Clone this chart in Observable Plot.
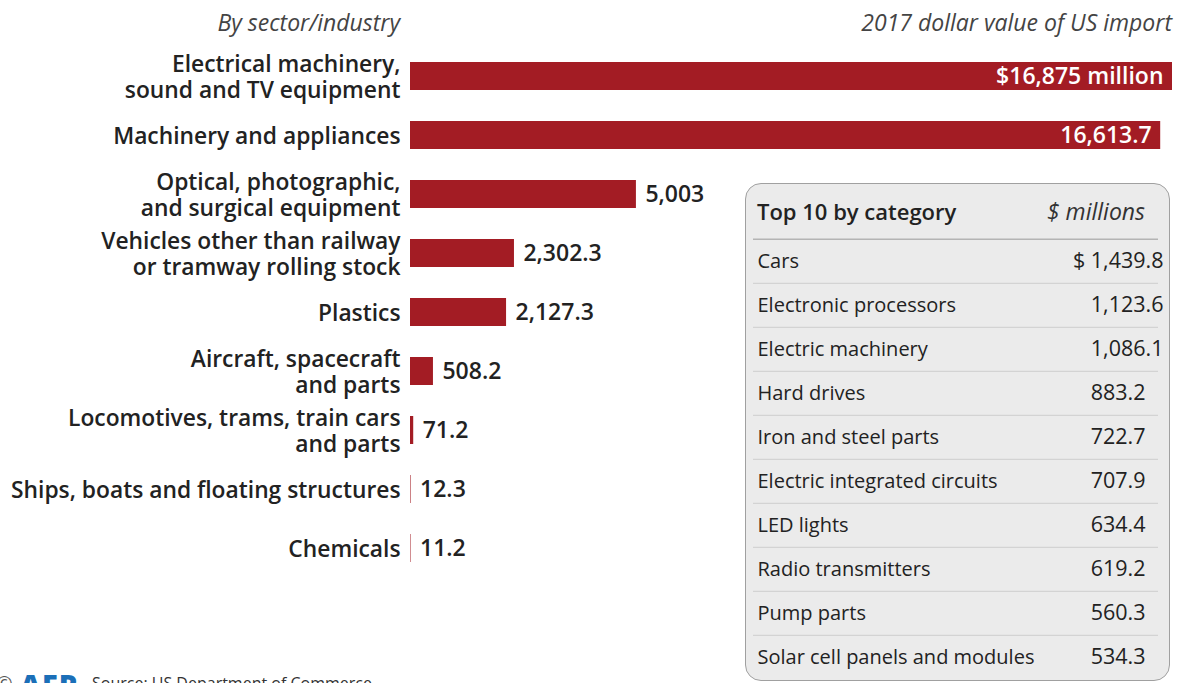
<!DOCTYPE html>
<html><head><meta charset="utf-8">
<script src="https://cdn.jsdelivr.net/npm/d3@7"></script>
<script src="https://cdn.jsdelivr.net/npm/@observablehq/plot@0.6"></script>
<style>
body{margin:0;background:#fff;overflow:hidden;}
#wrap{position:relative;width:1180px;height:683px;overflow:hidden;font-family:"Open Sans","Noto Sans",sans-serif;background:#fff;}
.hdr{position:absolute;top:6px;font-style:italic;font-size:23px;color:#444;white-space:nowrap;}
#chart{position:absolute;left:0;top:0;}
#box{position:absolute;left:745px;top:183px;width:425px;height:498px;box-sizing:border-box;background:#ebebeb;border:1.5px solid #a0a0a0;border-radius:16px;overflow:hidden;}
#boxhead{position:absolute;left:11px;right:24px;top:12px;font-size:22px;color:#222;line-height:30px;}
#boxhead b{font-weight:600;}
#boxhead i{position:absolute;right:0;top:0;color:#333;font-size:23px;}
#table{position:absolute;left:0;top:0;width:425px;height:498px;}
#table svg{max-width:none;}
#foot{position:absolute;left:0;top:664px;white-space:nowrap;}
#foot .logo{position:absolute;left:20px;top:0;font-size:29px;font-weight:800;color:#1b6fb8;letter-spacing:1px;}
#foot .copy{position:absolute;left:-4px;top:6px;font-size:20px;color:#555;}
#foot .src{position:absolute;left:92px;top:8px;font-size:16px;color:#333;}
</style></head><body>
<div id="wrap">
  <div class="hdr" style="left:0;width:400px;text-align:right;">By sector/industry</div>
  <div class="hdr" style="right:8px;text-align:right;">2017 dollar value of US import</div>
  <div id="chart"></div>
  <div id="box">
    <div id="table"></div>
    <div id="boxhead"><b>Top 10 by category</b><i>$ millions</i></div>
  </div>
  <div id="foot"><span class="copy">©</span><span class="logo">AFP</span><span class="src">Source: US Department of Commerce</span></div>
</div>
<script>
const sectors = [
  "Electrical machinery,\nsound and TV equipment",
  "Machinery and appliances",
  "Optical, photographic,\nand surgical equipment",
  "Vehicles other than railway\nor tramway rolling stock",
  "Plastics",
  "Aircraft, spacecraft\nand parts",
  "Locomotives, trams, train cars\nand parts",
  "Ships, boats and floating structures",
  "Chemicals"
];
const sectorValues = [16875, 16613.7, 5003, 2302.3, 2127.3, 508.2, 71.2, 12.3, 11.2];

const topCategories = [
  "Cars", "Electronic processors", "Electric machinery", "Hard drives",
  "Iron and steel parts", "Electric integrated circuits", "LED lights",
  "Radio transmitters", "Pump parts", "Solar cell panels and modules"
];
const topValues = [1439.8, 1123.6, 1086.1, 883.2, 722.7, 707.9, 634.4, 619.2, 560.3, 534.3];

const RED = "#a31c24";
const FONT = "'Open Sans', 'Noto Sans', sans-serif";
const fmt = d3.format(",");
const fmt1 = d3.format(",.1f");

const data = sectors.map((s, i) => ({sector: s, value: sectorValues[i], i}));

const main = Plot.plot({
  width: 1180, height: 600,
  marginLeft: 0, marginRight: 0, marginTop: 0, marginBottom: 0,
  x: {domain: [0, 16875], range: [410, 1172], axis: null},
  y: {type: "band", domain: sectors, range: [62, 563], paddingInner: 0.52, paddingOuter: 0, axis: null},
  style: {fontFamily: FONT, background: "transparent", overflow: "visible"},
  marks: [
    Plot.barX(data, {x: "value", y: "sector", fill: RED}),
    Plot.text(data, {x: 0, y: "sector", text: "sector", textAnchor: "end", dx: -10,
      fontSize: 22.8, fontWeight: 600, fill: "#222", lineHeight: 1.15}),
    Plot.text(data.filter(d => d.value > 10000), {x: "value", y: "sector",
      text: d => d.i === 0 ? "$" + fmt(d.value) + " million" : fmt(d.value),
      textAnchor: "end", dx: -9, fill: "#fff", fontSize: 23, fontWeight: 600}),
    Plot.text(data.filter(d => d.value <= 10000), {x: "value", y: "sector",
      text: d => fmt(d.value), textAnchor: "start", dx: 9, fill: "#222", fontSize: 23, fontWeight: 600})
  ]
});
document.getElementById("chart").append(main);

const rows = topCategories.map((c, i) => ({cat: c, value: topValues[i], i}));
const table = Plot.plot({
  width: 425, height: 498,
  marginLeft: 0, marginRight: 0, marginTop: 53, marginBottom: 1,
  x: {domain: [0, 1], range: [7, 412], axis: null},
  y: {type: "band", domain: topCategories, padding: 0, axis: null},
  style: {fontFamily: FONT, background: "transparent"},
  marks: [
    Plot.ruleY(rows, {y: "cat", dy: -22.2, x1: 0, x2: 1, stroke: d => d.i === 0 ? "#b4b4b4" : "#cdcdcd",
      strokeWidth: d => d.i === 0 ? 1.5 : 1}),
    Plot.text(rows, {y: "cat", text: "cat", frameAnchor: "left", dx: 11, fontSize: 20, fill: "#222"}),
    Plot.text(rows.filter(d => d.value >= 1000), {y: "cat",
      text: d => (d.i === 0 ? "$ " : "") + fmt1(d.value),
      frameAnchor: "right", textAnchor: "end", dx: -8, fontSize: 21.5, fill: "#222"}),
    Plot.text(rows.filter(d => d.value < 1000), {y: "cat",
      text: d => fmt1(d.value),
      frameAnchor: "right", textAnchor: "end", dx: -26, fontSize: 21.5, fill: "#222"})
  ]
});
document.getElementById("table").append(table);
</script>
</body></html>
